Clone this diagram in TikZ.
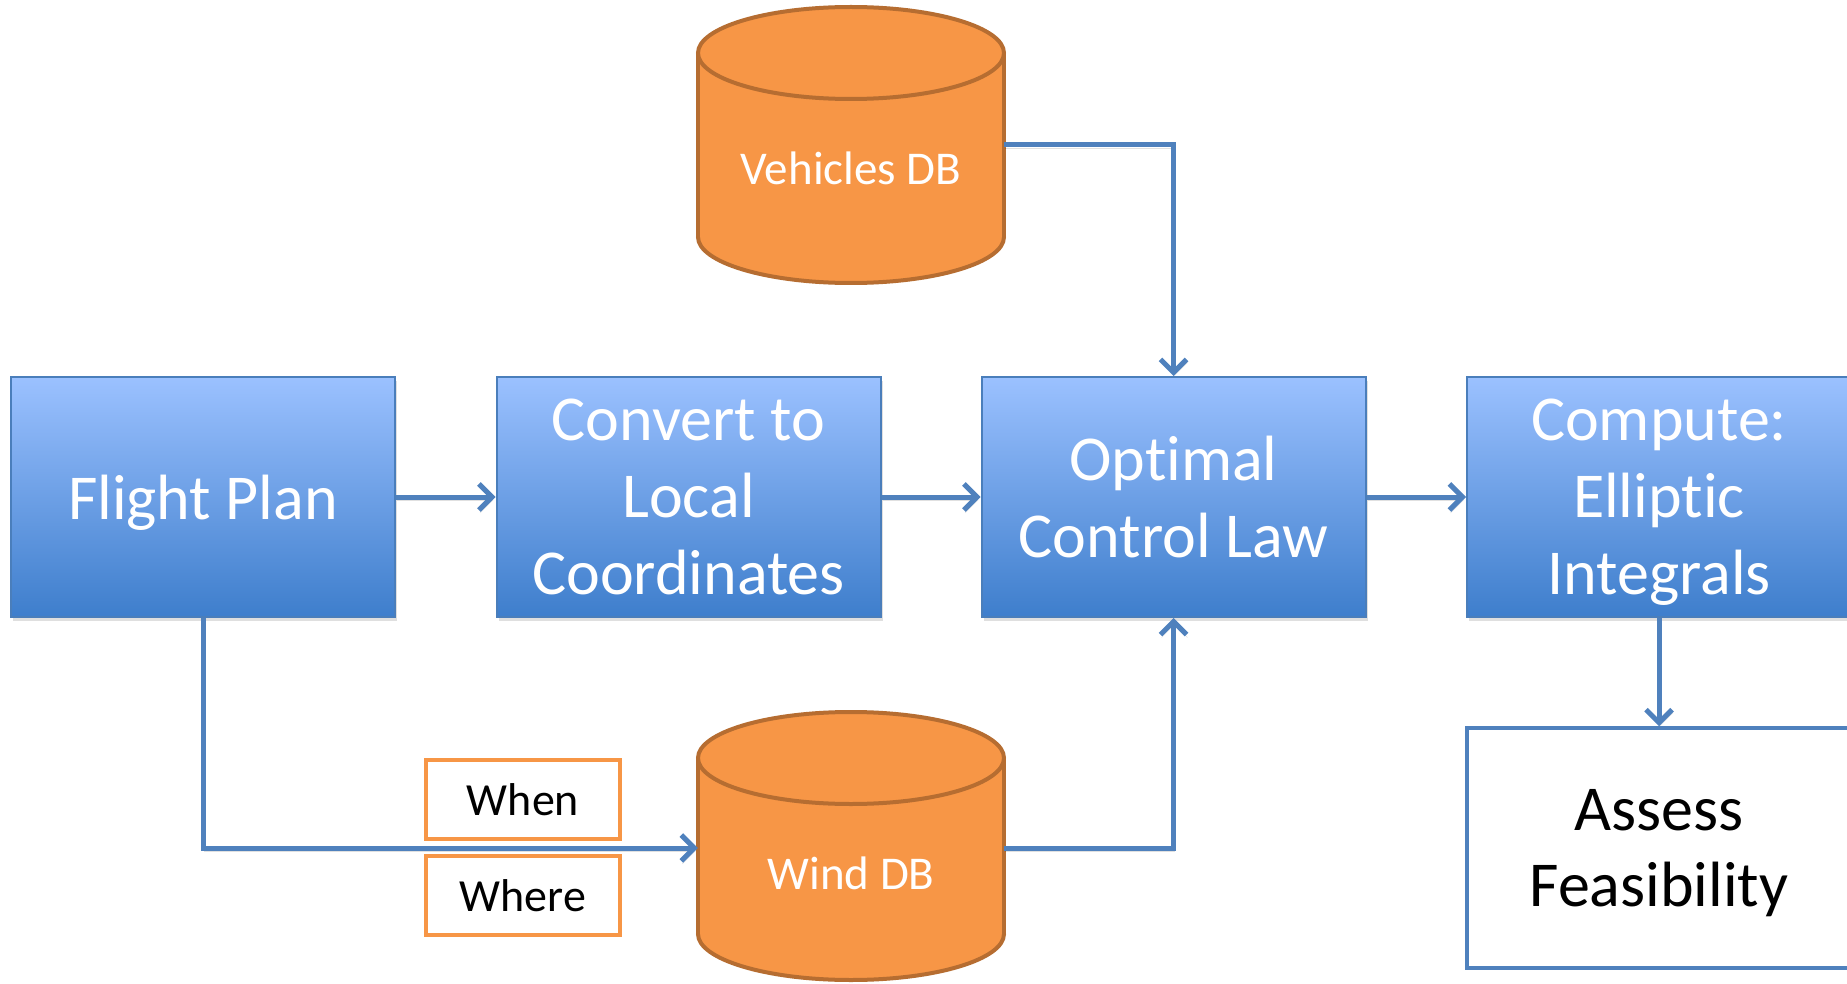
\documentclass[tikz,border=0pt]{standalone}
\usepackage{fontspec}
\setmainfont{Carlito}[Ligatures=NoCommon]
\usetikzlibrary{arrows.meta,shadows}

\definecolor{boxtop}{HTML}{9BC1FF}
\definecolor{boxbot}{HTML}{3E7ECC}
\definecolor{boxedge}{HTML}{4A7EBB}
\definecolor{dbfill}{HTML}{F79646}
\definecolor{dbedge}{HTML}{B66D31}
\definecolor{flowblue}{HTML}{4F81BD}
\definecolor{tagedge}{HTML}{F79646}

% database drum: centre x, centre y of top rim, centre y of bottom rim
\newcommand\dbdrum[3]{%
  \filldraw[dbshape] (#1,#3) ellipse [x radius=153, y radius=46];
  \fill[dbfill] (#1-153,#2) rectangle (#1+153,#3);
  \draw[dbshape] (#1-153,#2) -- (#1-153,#3);
  \draw[dbshape] (#1+153,#2) -- (#1+153,#3);
  \filldraw[dbshape] (#1,#2) ellipse [x radius=153, y radius=46];
}

\begin{document}
\begin{tikzpicture}[x=1pt,y=-1pt,
  stepbox/.style={rectangle, draw=boxedge, line width=2pt,
    top color=boxtop, bottom color=boxbot,
    minimum width=384pt, minimum height=240pt, inner sep=0pt,
    text depth=0pt,
    text=white, align=center, font=\fontsize{64}{77}\selectfont,
    drop shadow={opacity=0.25, shadow xshift=2pt, shadow yshift=-4pt}},
  resultbox/.style={rectangle, draw=flowblue, line width=3.5pt, fill=white,
    minimum width=384pt, minimum height=240pt, inner sep=0pt,
    text depth=0pt,
    text=black, align=center, font=\fontsize{64}{76}\selectfont},
  tagbox/.style={rectangle, draw=tagedge, line width=3.5pt, fill=white,
    minimum width=194pt, minimum height=79pt, inner sep=0pt,
    text=black, font=\fontsize{46}{54}\selectfont},
  dbshape/.style={fill=dbfill, draw=dbedge, line width=4pt},
  dbarea/.style={rectangle, minimum width=306pt, minimum height=268pt, inner sep=0pt},
  dblabel/.style={text=white, font=\fontsize{47}{56}\selectfont, inner sep=0pt},
  flow/.style={draw=flowblue, line width=5pt,
    -{Straight Barb[length=13pt, width=26pt]},
    preaction={draw=black, opacity=0.12, transform canvas={xshift=1pt, yshift=-3pt}}}
]
\useasboundingbox (0,0) rectangle (1847,984);

% databases
\dbdrum{851}{53}{237}
\dbdrum{851}{758}{934}
\node[dbarea] (veh) at (851,145) {};
\node[dblabel] (vehtxt) at (851,168) {Vehicles DB};
\node[dbarea] (wind) at (851,848) {};
\node[dblabel] (windtxt) at (851,873) {Wind DB};

% processing chain
\node[stepbox] (plan)  at (203,497)    {Flight Plan};
\node[stepbox] (local) at (688.5,497)  {Convert to\\Local\\Coordinates};
\node[stepbox] (ocl)   at (1173.5,497) {Optimal\\Control Law};
\node[stepbox] (ellip) at (1659,497)   {Compute:\\Elliptic\\Integrals};
\node[resultbox] (assess) at (1659,848) {Assess\\Feasibility};

% query tags
\node[tagbox] (when)  at (523,799.5) {When};
\node[tagbox] (where) at (523,895.5) {Where};

% connectors
\draw[flow] (plan) -- (local);
\draw[flow] (local) -- (ocl);
\draw[flow] (ocl) -- (ellip);
\draw[flow] (ellip) -- (assess);
\draw[flow] (veh.east) -| (ocl.north);
\draw[flow] (plan.south) |- (wind.west);
\draw[flow] (wind.east) -| (ocl.south);
\end{tikzpicture}
\end{document}
